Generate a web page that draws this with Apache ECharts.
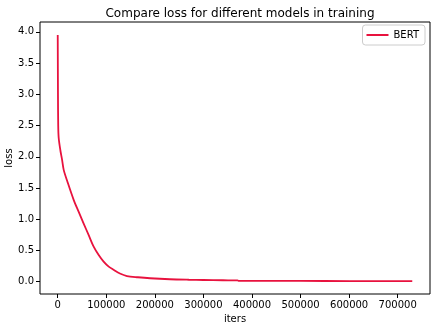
<!DOCTYPE html>
<html>
<head>
<meta charset="utf-8">
<script src="https://cdn.jsdelivr.net/npm/echarts@6/dist/echarts.min.js"></script>
<style>
  html, body { margin: 0; padding: 0; background: #fff; }
  #chart { width: 444px; height: 329px; }
</style>
</head>
<body>
<div id="chart"></div>
<script>
// 训练迭代步数与对应 loss
const iters = [0, 500, 1000, 2000, 5500, 9000, 12300, 20000, 32800, 43000, 53400, 64000, 74000, 84000,
  94500, 105000, 115000, 128000, 142500, 165000, 190000, 231000, 270000, 300000, 340000, 370000,
  372000, 420000, 500000, 600000, 730000]
const bertLoss = [3.95, 3.0, 2.5, 2.3, 2.1, 1.95, 1.79, 1.6, 1.31, 1.12, 0.93, 0.74, 0.56, 0.43,
  0.32, 0.24, 0.19, 0.13, 0.09, 0.07, 0.054, 0.038, 0.03, 0.026, 0.022, 0.02,
  0.013, 0.012, 0.011, 0.009, 0.008]
const xTicks = [0, 100000, 200000, 300000, 400000, 500000, 600000, 700000]
const yTicks = [0, 0.5, 1.0, 1.5, 2.0, 2.5, 3.0, 3.5, 4.0]

const font = 'DejaVu Sans'
const chart = echarts.init(document.getElementById('chart'))
chart.setOption({
  backgroundColor: '#fff',
  animation: false,
  title: {
    text: 'Compare loss for different models in training',
    left: 235, top: 3, textAlign: 'center',
    textStyle: { fontFamily: font, fontSize: 12, fontWeight: 'normal', color: '#000' }
  },
  legend: {
    right: 19, top: 25,
    data: ['BERT'],
    itemWidth: 22, itemHeight: 2,
    icon: 'rect',
    borderColor: '#ccc', borderWidth: 1, borderRadius: 3,
    padding: [5, 6, 5, 4],
    textStyle: { fontFamily: font, fontSize: 10, color: '#000' }
  },
  grid: {
    left: 40, right: 14, top: 22, bottom: 35,
    containLabel: false, outerBoundsMode: 'none',
    show: true, borderColor: '#000', borderWidth: 1
  },
  xAxis: {
    type: 'value',
    min: -36500, max: 766500,
    name: 'iters', nameLocation: 'middle', nameGap: 20, nameMoveOverlap: false,
    nameTextStyle: { fontFamily: font, fontSize: 10, color: '#000' },
    splitLine: { show: false },
    axisLine: { show: false, onZero: false },
    axisTick: { show: true, length: 4, lineStyle: { color: '#000' }, customValues: xTicks },
    axisLabel: {
      fontFamily: font, fontSize: 10, color: '#000', margin: 6,
      customValues: xTicks,
      formatter: v => String(v)
    }
  },
  yAxis: {
    type: 'value',
    min: -0.198, max: 4.158,
    name: 'loss', nameLocation: 'middle', nameGap: 26, nameMoveOverlap: false,
    nameTextStyle: { fontFamily: font, fontSize: 10, color: '#000' },
    splitLine: { show: false },
    axisLine: { show: false, onZero: false },
    axisTick: { show: true, length: 4, lineStyle: { color: '#000' }, customValues: yTicks },
    axisLabel: {
      fontFamily: font, fontSize: 10, color: '#000', margin: 6,
      customValues: yTicks,
      formatter: v => v.toFixed(1)
    }
  },
  series: [{
    name: 'BERT',
    type: 'line',
    data: iters.map((x, i) => [x, bertLoss[i]]),
    showSymbol: false,
    smooth: 0.3,
    lineStyle: { color: '#e8123e', width: 1.8 },
    itemStyle: { color: '#e8123e' }
  }]
})
</script>
</body>
</html>
